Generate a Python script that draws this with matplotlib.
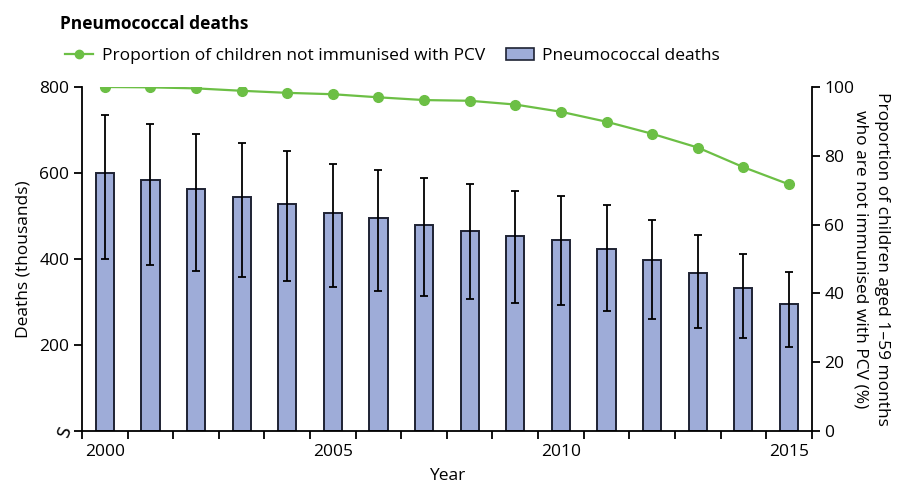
import numpy as np
import matplotlib
matplotlib.use('Agg')
import matplotlib.pyplot as plt
from matplotlib.lines import Line2D
from matplotlib.patches import Patch

plt.rcParams['font.family'] = ['Open Sans', 'DejaVu Sans']

years = np.arange(2000, 2016)
deaths = [601, 584, 563, 544, 529, 508, 495, 479, 465, 453, 444, 423, 398, 367, 332, 295]
deaths_hi = [736, 715, 690, 670, 651, 622, 607, 589, 574, 557, 547, 525, 491, 456, 412, 369]
deaths_lo = [399, 386, 372, 359, 349, 334, 326, 315, 307, 297, 293, 278, 260, 240, 217, 195]
not_immunised = [100, 99.9, 99.6, 98.9, 98.3, 97.9, 97.0, 96.2, 96.0, 94.9,
                 92.8, 89.9, 86.4, 82.4, 76.7, 71.7]
year_labels = [2000, 2005, 2010, 2015]

bar_color = '#9eacd8'
edge_color = '#1e2233'
green = '#6cbf45'

fig = plt.figure(figsize=(9.06, 4.82), dpi=100)
ax = fig.add_axes([0.0905, 0.1058, 0.8055, 0.7137])

dl = np.array(deaths)
err = [dl - np.array(deaths_lo), np.array(deaths_hi) - dl]
ax.bar(years, deaths, width=0.4, color=bar_color, edgecolor=edge_color, linewidth=1.4, zorder=2)
ax.errorbar(years, deaths, yerr=err, fmt='none', ecolor='black', elinewidth=1.3,
            capsize=3, capthick=1.3, zorder=3)

ax.set_xlim(1999.5, 2015.5)
ax.set_ylim(0, 800)
ax.set_xticks(np.arange(1999.5, 2016, 1))
ax.set_xticklabels([])
ax.set_xticks(year_labels, minor=True)
ax.set_xticklabels([str(y) for y in year_labels], minor=True)
ax.tick_params(axis='x', which='minor', length=0, pad=9, labelsize=12.5)
ax.tick_params(axis='x', which='major', length=6, width=1.3, direction='out')
ax.set_yticks([0, 200, 400, 600, 800])
ax.set_yticklabels(['', '200', '400', '600', '800'])
ax.tick_params(axis='y', length=6, width=1.3, labelsize=12.5, pad=3)
for s in ['top', 'right']:
    ax.spines[s].set_visible(False)
for s in ['left', 'bottom']:
    ax.spines[s].set_linewidth(1.3)
# axis break mark at the origin
ax.text(-0.024, 0.0, 'S', transform=ax.transAxes, ha='center', va='center',
        fontsize=12, rotation=70, family='DejaVu Sans')

ax.set_ylabel('Deaths (thousands)', fontsize=12.5, labelpad=6)
ax.set_xlabel('Year', fontsize=12.5, labelpad=6)

ax2 = ax.twinx()
ax2.plot(years, not_immunised, color=green, linewidth=1.6, marker='o',
         markersize=7, markerfacecolor=green, markeredgecolor=green, zorder=4)
ax2.set_ylim(0, 100)
ax2.set_yticks([0, 20, 40, 60, 80, 100])
ax2.tick_params(axis='y', length=6, width=1.3, labelsize=12.5, pad=3)
for s in ['top', 'left', 'bottom']:
    ax2.spines[s].set_visible(False)
ax2.spines['right'].set_linewidth(1.3)
ax2.set_ylabel('Proportion of children aged 1–59 months\nwho are not immunised with PCV (%)',
               fontsize=12.5, rotation=270, labelpad=26, linespacing=1.45)

fig.text(0.066, 0.95, 'Pneumococcal deaths', fontsize=12.5, fontweight='bold', va='center')

handles = [Line2D([0], [0], color=green, linewidth=1.6, marker='o', markersize=6),
           Patch(facecolor=bar_color, edgecolor=edge_color, linewidth=1.2)]
fig.legend(handles, ['Proportion of children not immunised with PCV', 'Pneumococcal deaths'],
           loc='center left', bbox_to_anchor=(0.055, 0.883), ncol=2, frameon=False,
           fontsize=12.5, handlelength=1.6, handletextpad=0.5, columnspacing=1.2)

fig.savefig('out.png', dpi=100)
